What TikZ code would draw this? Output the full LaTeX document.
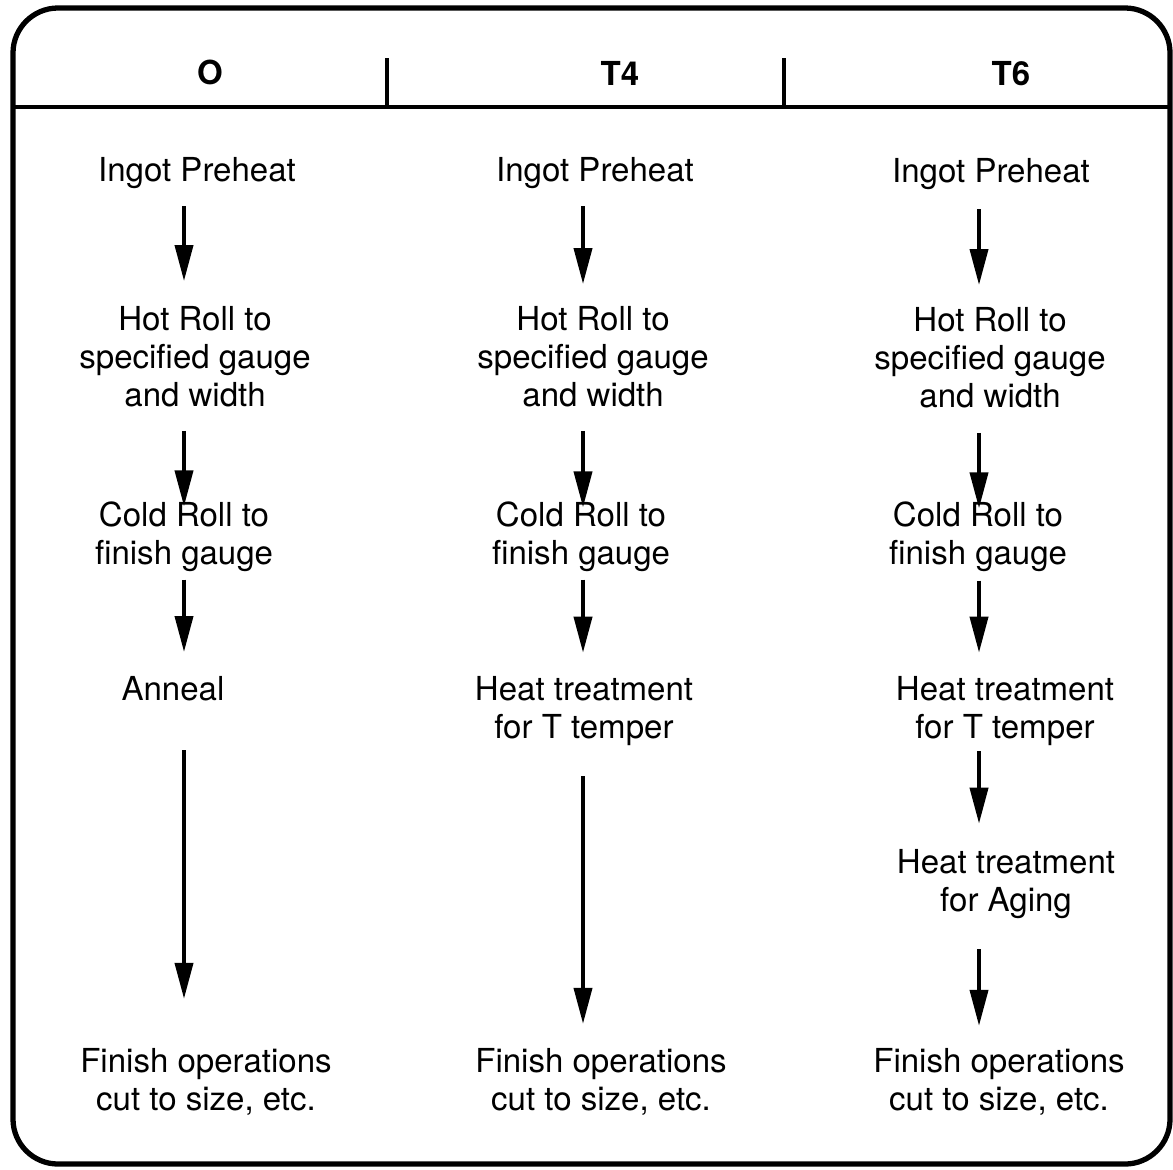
\documentclass[tikz,border=0pt]{standalone}
\usepackage{fontspec}
\setmainfont{TeX Gyre Heros}
\usepackage{tikz}
\usetikzlibrary{arrows.meta}
\tikzset{
  frame/.style={line width=1.5pt, draw=black},
  rule/.style={line width=0.9pt, draw=black},
  flow/.style={-{Triangle[length=3.6mm,width=1.8mm]}, line width=1.1pt},
  head/.style={font=\fontsize{9.4}{10.8}\selectfont\bfseries, inner sep=0pt},
  stage/.style={font=\fontsize{9.4}{10.8}\selectfont, align=center, inner sep=0pt}
}

\begin{document}
\begin{tikzpicture}
  \useasboundingbox (0,0) rectangle (11.73,-11.69);

  % outer frame and header row
  \draw[frame, rounded corners=0.45cm] (0.13,-0.08) rectangle (11.70,-11.64);
  \draw[rule] (0.13,-1.07) -- (11.70,-1.07);
  \draw[rule] (3.87,-0.58) -- (3.87,-1.07);
  \draw[rule] (7.84,-0.58) -- (7.84,-1.07);

  \node[head] (hO) at (2.10,-0.72) {O};
  \node[head] (hT4) at (6.20,-0.73) {T4};
  \node[head] (hT6) at (10.11,-0.74) {T6};

  % column axes for the arrows
  \coordinate (axA) at (1.84,0);
  \coordinate (axB) at (5.83,0);
  \coordinate (axC) at (9.79,0);

  % O temper
  \node[stage] (ipA) at (1.97,-1.73) {Ingot Preheat};
  \node[stage] (hrA) at (1.95,-3.57) {Hot Roll to\\specified gauge\\and width};
  \node[stage] (crA) at (1.84,-5.37) {Cold Roll to\\finish gauge};
  \node[stage] (anA) at (1.73,-6.89) {Anneal};
  \node[stage] (fiA) at (2.06,-10.82) {Finish operations\\cut to size, etc.};

  % T4 temper
  \node[stage] (ipB) at (5.95,-1.73) {Ingot Preheat};
  \node[stage] (hrB) at (5.93,-3.57) {Hot Roll to\\specified gauge\\and width};
  \node[stage] (crB) at (5.81,-5.37) {Cold Roll to\\finish gauge};
  \node[stage] (htB) at (5.84,-7.11) {Heat treatment\\for T temper};
  \node[stage] (fiB) at (6.01,-10.82) {Finish operations\\cut to size, etc.};

  % T6 temper
  \node[stage] (ipC) at (9.91,-1.74) {Ingot Preheat};
  \node[stage] (hrC) at (9.90,-3.58) {Hot Roll to\\specified gauge\\and width};
  \node[stage] (crC) at (9.78,-5.37) {Cold Roll to\\finish gauge};
  \node[stage] (htC) at (10.05,-7.11) {Heat treatment\\for T temper};
  \node[stage] (agC) at (10.06,-8.84) {Heat treatment\\for Aging};
  \node[stage] (fiC) at (9.99,-10.82) {Finish operations\\cut to size, etc.};

  % process arrows: from/to/axis/gap at start/gap at end
  \foreach \a/\b/\ax/\s/\e in {
      ipA/hrA/axA/0.17/0.25, hrA/crA/axA/0.23/-0.05, crA/anA/axA/0.07/0.24, anA/fiA/axA/0.48/0.49,
      ipB/hrB/axB/0.17/0.22, hrB/crB/axB/0.23/-0.06, crB/htB/axB/0.07/0.23, htB/fiB/axB/0.30/0.24,
      ipC/hrC/axC/0.19/0.22, hrC/crC/axC/0.24/-0.07, crC/htC/axC/0.08/0.23, htC/agC/axC/0.05/0.25,
      agC/fiC/axC/0.30/0.22}{
    \draw[flow, shorten <=\s cm, shorten >=\e cm] (\a.south -| \ax) -- (\b.north -| \ax);
  }
\end{tikzpicture}
\end{document}
